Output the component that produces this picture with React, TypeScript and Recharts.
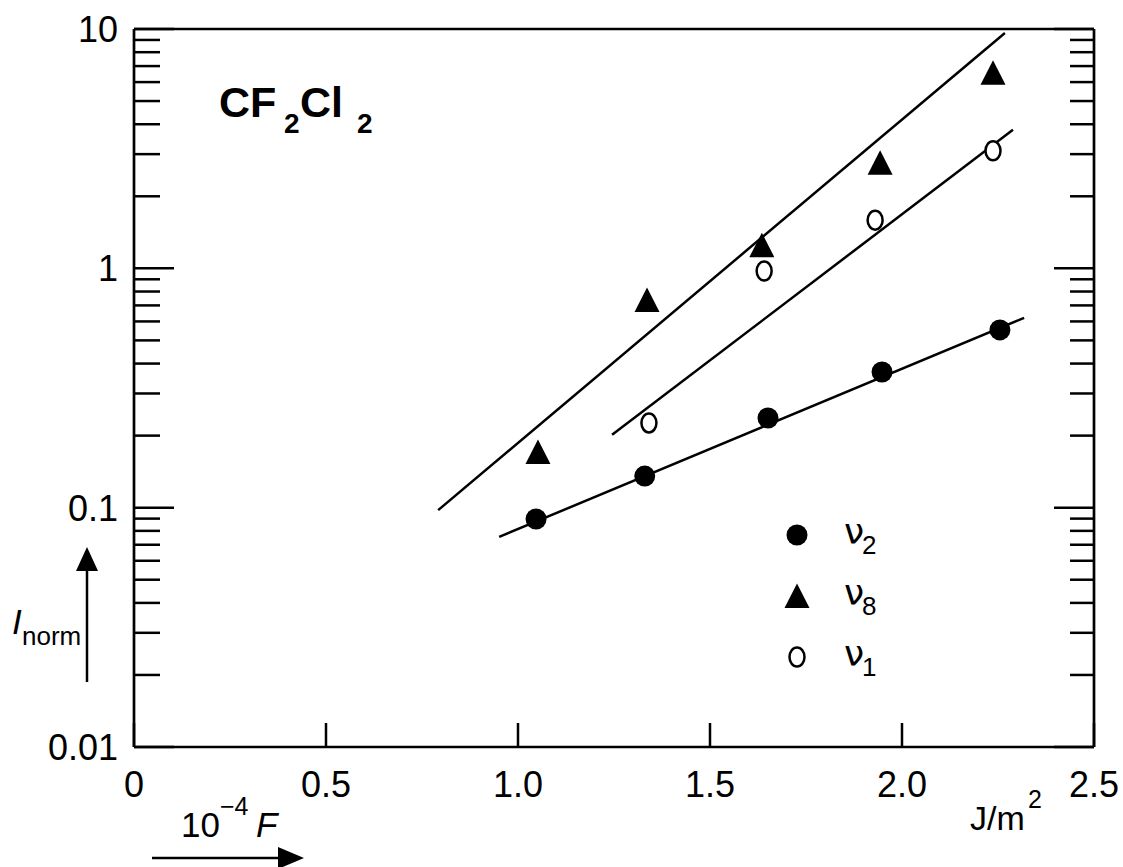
import React from 'react';
import { ScatterChart, Scatter, XAxis, YAxis, ReferenceLine } from 'recharts';

// Normalized band intensity of CF2Cl2 versus laser fluence (10^-4 F, J/m^2)
const nu2Fluence = [1.047, 1.33, 1.651, 1.948, 2.255];
const nu2Intensity = [0.0897, 0.1355, 0.237, 0.369, 0.553];
const nu8Fluence = [1.052, 1.336, 1.635, 1.943, 2.237];
const nu8Intensity = [0.171, 0.738, 1.25, 2.76, 6.56];
const nu1Fluence = [1.341, 1.641, 1.93, 2.237];
const nu1Intensity = [0.226, 0.975, 1.59, 3.1];

// Straight-line fits on the log scale (end points)
const nu2FitFluence = [0.951, 2.318];
const nu2FitIntensity = [0.0755, 0.621];
const nu8FitFluence = [0.792, 2.268];
const nu8FitIntensity = [0.0977, 9.63];
const nu1FitFluence = [1.245, 2.289];
const nu1FitIntensity = [0.2015, 3.79];

const xTicks = [0, 0.5, 1, 1.5, 2, 2.5];
const xTickLabels = ['0', '0.5', '1.0', '1.5', '2.0', '2.5'];
const yMajorTicks = [0.01, 0.1, 1, 10];
const yMajorLabels = ['0.01', '0.1', '1', '10'];
const yMinorTicks = [
  0.02, 0.03, 0.04, 0.05, 0.06, 0.07, 0.08, 0.09,
  0.2, 0.3, 0.4, 0.5, 0.6, 0.7, 0.8, 0.9,
  2, 3, 4, 5, 6, 7, 8, 9,
];

const legendBase = 'ν';
const legendSubs = ['2', '8', '1'];

const FONT = '"Liberation Sans", Arial, Helvetica, sans-serif';
const GREEK = '"DejaVu Sans", "Liberation Sans", sans-serif';
const INK = '#000';

const zip = (xs: number[], ys: number[]) => xs.map((F, i) => ({ F, I: ys[i] }));

const nu2Data = zip(nu2Fluence, nu2Intensity);
const nu8Data = zip(nu8Fluence, nu8Intensity);
const nu1Data = zip(nu1Fluence, nu1Intensity);
const fits = [
  zip(nu2FitFluence, nu2FitIntensity),
  zip(nu8FitFluence, nu8FitIntensity),
  zip(nu1FitFluence, nu1FitIntensity),
];

const yTicks = [...yMajorTicks, ...yMinorTicks].sort((a, b) => a - b);

const isMajorY = (v: number) => yMajorTicks.some((m) => Math.abs(m - v) / m < 1e-6);
const yLabel = (v: number) => {
  const i = yMajorTicks.findIndex((m) => Math.abs(m - v) / m < 1e-6);
  return i >= 0 ? yMajorLabels[i] : '';
};
const xLabel = (v: number) => {
  const i = xTicks.findIndex((t) => Math.abs(t - v) < 1e-6);
  return i >= 0 ? xTickLabels[i] : '';
};

// Marker glyphs
const FilledDot = ({ cx, cy }: any) => <circle cx={cx} cy={cy} r={10.5} fill={INK} />;
const Triangle = ({ cx, cy }: any) => (
  <polygon points={`${cx},${cy - 12.5} ${cx + 12.5},${cy + 12} ${cx - 12.5},${cy + 12}`} fill={INK} />
);
const OpenDot = ({ cx, cy }: any) => (
  <ellipse cx={cx} cy={cy} rx={7.5} ry={9.5} fill="#fff" stroke={INK} strokeWidth={2.5} />
);

// Inward-pointing axis ticks
const LeftTick = (p: any) => {
  const v = p.payload.value;
  const len = isMajorY(v) ? 40 : 26;
  const lab = yLabel(v);
  return (
    <g>
      <line x1={p.x} y1={p.y} x2={p.x + len} y2={p.y} stroke={INK} strokeWidth={2.5} />
      {lab && (
        <text x={p.x - 16} y={p.y} dy="0.36em" textAnchor="end" fontFamily={FONT} fontSize={36} fill={INK}>
          {lab}
        </text>
      )}
    </g>
  );
};
const RightTick = (p: any) => {
  const v = p.payload.value;
  const len = isMajorY(v) ? 40 : 24;
  return <line x1={p.x} y1={p.y} x2={p.x - len} y2={p.y} stroke={INK} strokeWidth={2.5} />;
};
const BottomTick = (p: any) => (
  <g>
    <line x1={p.x} y1={p.y} x2={p.x} y2={p.y - 24} stroke={INK} strokeWidth={2.5} />
    <text x={p.x} y={p.y + 37} dy="0.36em" textAnchor="middle" fontFamily={FONT} fontSize={36} fill={INK}>
      {xLabel(p.payload.value)}
    </text>
  </g>
);
const TopTick = (p: any) => (
  <line x1={p.x} y1={p.y} x2={p.x} y2={p.y + 24} stroke={INK} strokeWidth={2.5} />
);

const legendMarkers = [FilledDot, Triangle, OpenDot];

export default function App() {
  const axisLine = { stroke: INK, strokeWidth: 2.7 };
  return (
    <div style={{ width: 1123, height: 867, background: '#fff' }}>
      <style>{'body{margin:0;overflow:hidden;background:#fff}'}</style>
      <ScatterChart width={1123} height={867} margin={{ top: 28, left: 133, right: 28, bottom: 119 }}>
        <XAxis
          xAxisId="b"
          orientation="bottom"
          type="number"
          dataKey="F"
          domain={[0, 2.5]}
          ticks={xTicks}
          interval={0}
          height={1}
          tickSize={0}
          tickMargin={0}
          tickLine={false}
          axisLine={axisLine}
          tick={BottomTick}
        />
        <XAxis
          xAxisId="t"
          orientation="top"
          type="number"
          dataKey="F"
          domain={[0, 2.5]}
          ticks={xTicks}
          interval={0}
          height={1}
          tickSize={0}
          tickMargin={0}
          tickLine={false}
          axisLine={axisLine}
          tick={TopTick}
        />
        <YAxis
          yAxisId="l"
          orientation="left"
          type="number"
          dataKey="I"
          scale="log"
          domain={[0.01, 10]}
          allowDataOverflow
          ticks={yTicks}
          interval={0}
          width={1}
          tickSize={0}
          tickMargin={0}
          tickLine={false}
          axisLine={axisLine}
          tick={LeftTick}
        />
        <YAxis
          yAxisId="r"
          orientation="right"
          type="number"
          dataKey="I"
          scale="log"
          domain={[0.01, 10]}
          allowDataOverflow
          ticks={yTicks}
          interval={0}
          width={1}
          tickSize={0}
          tickMargin={0}
          tickLine={false}
          axisLine={axisLine}
          tick={RightTick}
        />

        {fits.map((seg, i) => (
          <ReferenceLine
            key={i}
            xAxisId="b"
            yAxisId="l"
            segment={[
              { x: seg[0].F, y: seg[0].I },
              { x: seg[1].F, y: seg[1].I },
            ]}
            ifOverflow="visible"
            stroke={INK}
            strokeWidth={2.5}
          />
        ))}

        <Scatter name="ν2" data={nu2Data} xAxisId="b" yAxisId="l" shape={FilledDot} isAnimationActive={false} />
        <Scatter name="ν8" data={nu8Data} xAxisId="b" yAxisId="l" shape={Triangle} isAnimationActive={false} />
        <Scatter name="ν1" data={nu1Data} xAxisId="b" yAxisId="l" shape={OpenDot} isAnimationActive={false} />

        {/* compound name */}
        <text fontFamily={FONT} fontWeight="bold" fill={INK}>
          <tspan x={219} y={117} fontSize={43}>CF</tspan>
          <tspan x={284} y={133} fontSize={28}>2</tspan>
          <tspan x={300} y={117} fontSize={43}>Cl</tspan>
          <tspan x={357} y={133} fontSize={28}>2</tspan>
        </text>

        {/* legend */}
        {legendSubs.map((s, i) => {
          const M = legendMarkers[i];
          const cy = 535 + i * 61;
          return (
            <g key={s}>
              <M cx={797} cy={cy} />
              <text fill={INK}>
                <tspan x={844} y={cy + 9} fontSize={36} fontFamily={GREEK}>{legendBase}</tspan>
                <tspan x={862} y={cy + 19} fontSize={26} fontFamily={FONT}>{s}</tspan>
              </text>
            </g>
          );
        })}

        {/* y-axis quantity with arrow */}
        <line x1={87} y1={682} x2={87} y2={568} stroke={INK} strokeWidth={2.5} />
        <polygon points="76,571 98,571 87,547" fill={INK} />
        <text fontFamily={FONT} fill={INK}>
          <tspan x={12} y={634} fontSize={35} fontStyle="italic">I</tspan>
          <tspan x={22} y={645} fontSize={26}>norm</tspan>
        </text>

        {/* x-axis quantity with arrow */}
        <text fontFamily={FONT} fill={INK}>
          <tspan x={181} y={837} fontSize={35}>10</tspan>
          <tspan x={220} y={815} fontSize={25}>−4</tspan>
          <tspan x={256} y={837} fontSize={35} fontStyle="italic">F</tspan>
        </text>
        <line x1={152} y1={858} x2={282} y2={858} stroke={INK} strokeWidth={2.5} />
        <polygon points="278,847 278,869 304,858" fill={INK} />
        <text fontFamily={FONT} fill={INK}>
          <tspan x={970} y={830} fontSize={34}>J/m</tspan>
          <tspan x={1028} y={808} fontSize={25}>2</tspan>
        </text>
      </ScatterChart>
    </div>
  );
}
